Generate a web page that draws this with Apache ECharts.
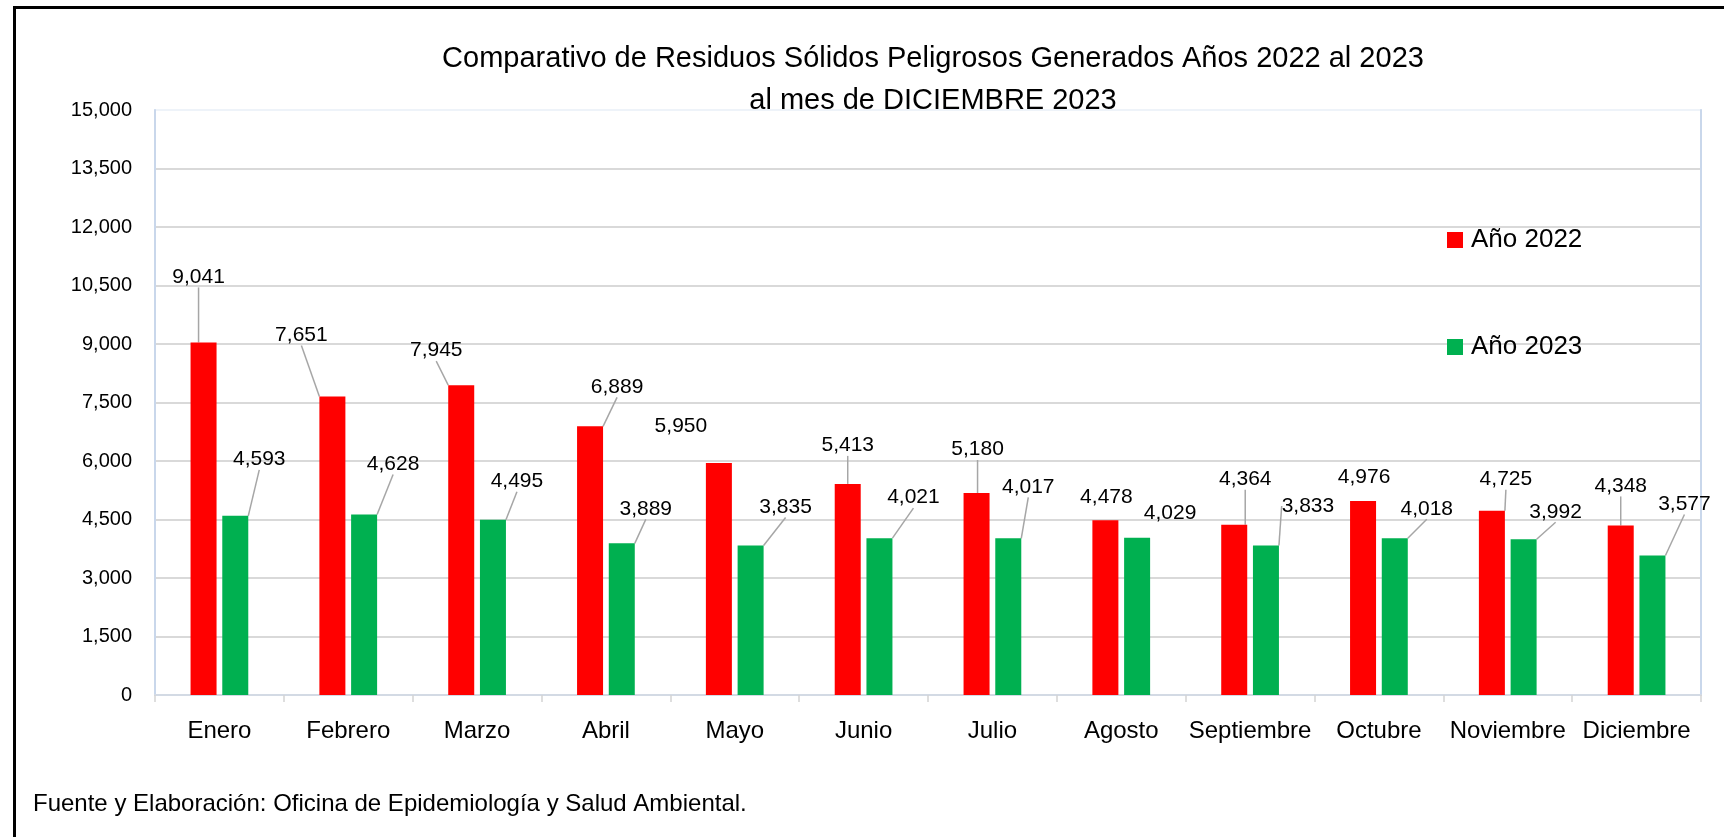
<!DOCTYPE html>
<html>
<head>
<meta charset="utf-8">
<title>Residuos Sólidos Peligrosos 2022-2023</title>
<script src="https://cdn.jsdelivr.net/npm/echarts@6/dist/echarts.min.js"></script>
<style>
  html, body { margin: 0; padding: 0; background: #fff; }
  #chart { width: 1724px; height: 837px; }
</style>
</head>
<body>
<div id="chart"></div>
<script>
var months = ["Enero", "Febrero", "Marzo", "Abril", "Mayo", "Junio", "Julio",
  "Agosto", "Septiembre", "Octubre", "Noviembre", "Diciembre"];
var values2022 = [9041, 7651, 7945, 6889, 5950, 5413, 5180, 4478, 4364, 4976, 4725, 4348];
var values2023 = [4593, 4628, 4495, 3889, 3835, 4021, 4017, 4029, 3833, 4018, 3992, 3577];
var yTicks = { min: 0, max: 15000, step: 1500 };

// label placement (moved like in the excel original), [dx, dy]
var labelShift2022 = [[-5, -55], [-31, -51], [-25, -24], [27, -29], [-38, -26], [0, -28],
  [1, -33], [1, -13], [11, -35], [1, -13], [14, -21], [0, -29]];
var labelShift2023 = [[24, -46], [29, -40], [24, -28], [24, -24], [35, -28], [34, -30],
  [20, -41], [33, -14], [42, -29], [32, -19], [32, -17], [32, -41]];
var leader2022 = [true, true, true, true, false, true, true, false, true, false, true, true];
var leader2023 = [true, true, true, true, true, true, true, false, true, true, true, true];

var FONT = "'Liberation Sans', Arial, sans-serif";

function fmt(v) {
  return Number(v).toLocaleString("en-US");
}

function buildData(vals, leaders) {
  return vals.map(function (v, i) {
    return { value: v, labelLine: { show: leaders[i] } };
  });
}

function barSeries(name, color, vals, leaders, shifts) {
  return {
    name: name,
    type: "bar",
    barWidth: 26,
    barGap: "22%",
    itemStyle: { color: color },
    label: {
      show: true,
      position: "top",
      distance: 0,
      color: "#000",
      fontFamily: FONT,
      fontSize: 21,
      formatter: function (p) { return fmt(p.value); }
    },
    labelLine: {
      show: true,
      lineStyle: { color: "#a6a6a6", width: 1.5 }
    },
    labelLayout: function (params) {
      var s = shifts[params.dataIndex];
      return { dx: s[0], dy: s[1] };
    },
    data: buildData(vals, leaders)
  };
}

// the top grid line is almost invisible in the original
var splitColors = [];
for (var i = 0; i < 10; i++) splitColors.push("#d9d9d9");
splitColors.push("#eef3f9");

var chart = echarts.init(document.getElementById("chart"));
chart.setOption({
  backgroundColor: "#fff",
  animation: false,
  textStyle: { fontFamily: FONT },
  title: {
    text: "Comparativo de Residuos Sólidos Peligrosos Generados Años 2022 al 2023\nal mes de DICIEMBRE 2023",
    left: 933,
    top: 38,
    padding: 0,
    textAlign: "center",
    textStyle: {
      color: "#000",
      fontFamily: FONT,
      fontSize: 29,
      fontWeight: "normal",
      lineHeight: 42
    }
  },
  legend: {
    orient: "vertical",
    left: 1442,
    top: 222,
    itemWidth: 16,
    itemHeight: 16,
    itemGap: 81,
    icon: "rect",
    textStyle: { color: "#000", fontFamily: FONT, fontSize: 26, padding: [0, 0, 0, 3] },
    data: ["Año 2022", "Año 2023"]
  },
  grid: {
    left: 155,
    right: 23,
    top: 110,
    bottom: 142,
    show: true,
    borderColor: "#eef3f9",
    borderWidth: 2
  },
  xAxis: {
    type: "category",
    data: months,
    axisLine: { show: true, lineStyle: { color: "#d3dae4", width: 2 } },
    axisTick: { show: true, interval: 0, length: 7, lineStyle: { color: "#d3d3d3", width: 1.5 } },
    axisLabel: { interval: 0, color: "#000", fontFamily: FONT, fontSize: 24, margin: 24 }
  },
  yAxis: [
    {
      type: "value",
      min: yTicks.min,
      max: yTicks.max,
      interval: yTicks.step,
      axisLine: { show: true, lineStyle: { color: "#c9d7eb", width: 2 } },
      axisTick: { show: false },
      splitLine: { lineStyle: { color: splitColors, width: 2 } },
      axisLabel: {
        color: "#000",
        fontFamily: FONT,
        fontSize: 20,
        margin: 23,
        formatter: function (v) { return fmt(v); }
      }
    },
    {
      // only used for the blue line on the right side of the plot
      type: "value",
      position: "right",
      min: yTicks.min,
      max: yTicks.max,
      interval: yTicks.step,
      axisLine: { show: true, lineStyle: { color: "#c9d7eb", width: 2 } },
      axisTick: { show: false },
      axisLabel: { show: false },
      splitLine: { show: false }
    }
  ],
  series: [
    barSeries("Año 2022", "#ff0000", values2022, leader2022, labelShift2022),
    barSeries("Año 2023", "#00b050", values2023, leader2023, labelShift2023)
  ],
  graphic: [
    {
      type: "rect",
      left: 12,
      top: 5,
      shape: { width: 1740, height: 900 },
      style: { fill: null, stroke: "#000", lineWidth: 3 },
      silent: true
    },
    {
      type: "text",
      left: 33,
      top: 792,
      style: {
        text: "Fuente y Elaboración: Oficina de Epidemiología y Salud Ambiental.",
        fill: "#000",
        fontFamily: FONT,
        fontSize: 24
      }
    }
  ]
});
</script>
</body>
</html>
